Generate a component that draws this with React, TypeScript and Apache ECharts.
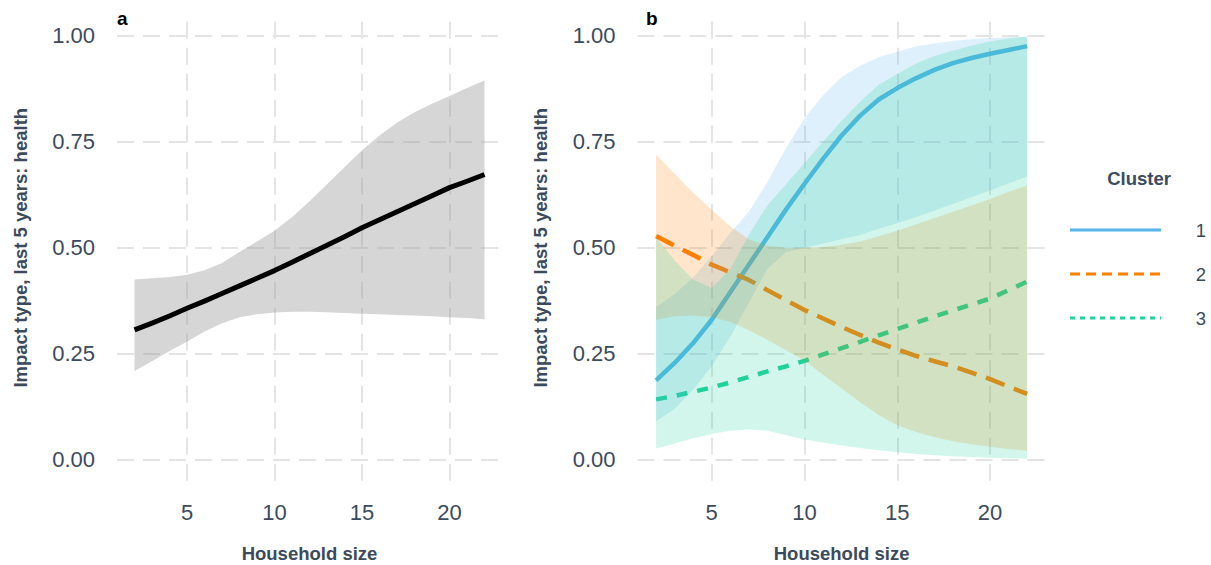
import React, { useEffect, useRef } from "react";
import * as echarts from "echarts";

// ---------- data ----------
const X = [2, 3, 4, 5, 6, 7, 8, 9, 10, 11, 12, 13, 14, 15, 16, 17, 18, 19, 20, 21, 22];

// panel a
const aFit = [0.306, 0.322, 0.339, 0.357, 0.374, 0.392, 0.41, 0.428, 0.446, 0.466, 0.486, 0.506, 0.526, 0.547, 0.566, 0.585, 0.604, 0.623, 0.642, 0.657, 0.673];
const aLo = [0.209, 0.232, 0.256, 0.278, 0.302, 0.322, 0.336, 0.343, 0.347, 0.349, 0.349, 0.348, 0.346, 0.344, 0.343, 0.341, 0.34, 0.338, 0.336, 0.334, 0.331];
const aHi = [0.425, 0.428, 0.431, 0.436, 0.447, 0.464, 0.49, 0.515, 0.54, 0.572, 0.61, 0.65, 0.69, 0.73, 0.765, 0.795, 0.82, 0.84, 0.858, 0.877, 0.895];

// panel b
const c1Fit = [0.187, 0.228, 0.275, 0.33, 0.395, 0.46, 0.525, 0.59, 0.651, 0.71, 0.765, 0.812, 0.85, 0.877, 0.9, 0.92, 0.936, 0.948, 0.958, 0.967, 0.976];
const c1Lo = [0.09, 0.12, 0.165, 0.22, 0.29, 0.37, 0.45, 0.49, 0.5, 0.51, 0.52, 0.53, 0.545, 0.558, 0.572, 0.588, 0.603, 0.619, 0.635, 0.652, 0.668];
const c1Hi = [0.36, 0.39, 0.43, 0.48, 0.535, 0.585, 0.655, 0.735, 0.805, 0.86, 0.903, 0.93, 0.95, 0.963, 0.975, 0.982, 0.988, 0.992, 0.995, 0.997, 0.998];

const c2Fit = [0.528, 0.505, 0.483, 0.46, 0.442, 0.424, 0.4, 0.376, 0.353, 0.333, 0.313, 0.294, 0.276, 0.26, 0.245, 0.232, 0.22, 0.205, 0.19, 0.172, 0.155];
const c2Lo = [0.33, 0.338, 0.34, 0.336, 0.325, 0.305, 0.283, 0.258, 0.234, 0.2, 0.168, 0.135, 0.105, 0.081, 0.065, 0.053, 0.043, 0.036, 0.03, 0.025, 0.021];
const c2Hi = [0.72, 0.675, 0.63, 0.59, 0.55, 0.52, 0.505, 0.5, 0.5, 0.502, 0.507, 0.515, 0.527, 0.54, 0.555, 0.57, 0.585, 0.6, 0.615, 0.632, 0.647];

const c3Fit = [0.142, 0.15, 0.16, 0.17, 0.182, 0.195, 0.208, 0.22, 0.233, 0.248, 0.263, 0.278, 0.293, 0.308, 0.323, 0.338, 0.352, 0.366, 0.38, 0.4, 0.42];
const c3Lo = [0.026, 0.038, 0.05, 0.06, 0.068, 0.071, 0.068, 0.058, 0.047, 0.04, 0.033, 0.027, 0.022, 0.017, 0.013, 0.01, 0.008, 0.006, 0.004, 0.003, 0.002];
const c3Hi = [0.525, 0.47, 0.425, 0.405, 0.45, 0.53, 0.6, 0.65, 0.7, 0.75, 0.8, 0.845, 0.885, 0.91, 0.935, 0.953, 0.965, 0.977, 0.987, 0.994, 0.998];

const clusters = ["1", "2", "3"];
const xTicks = [5, 10, 15, 20];
const yTicks = [0, 0.25, 0.5, 0.75, 1];
const xTitle = "Household size";
const yTitle = "Impact type, last 5 years: health";

// ---------- style ----------
const FONT = "'Liberation Sans', Arial, Helvetica, sans-serif";
const TXT = "#3b4a5c";
const GRID = "#e4e4e4";
const COL = ["#56B4E9", "#FF7F00", "#1FD39A"];
const FILL = ["rgba(86,180,233,0.2)", "rgba(255,127,0,0.2)", "rgba(31,211,154,0.2)"];
const DASH: any[] = ["solid", [20, 10], [11, 10]];

const GRIDS = [
  { left: 117, top: 14.8, width: 385, height: 465.9 },
  { left: 637.5, top: 14.8, width: 408.2, height: 465.9 },
];

function ribbon(idx: number, lo: number[], hi: number[], fill: string, z: number) {
  return {
    type: "custom",
    xAxisIndex: idx,
    yAxisIndex: idx,
    z,
    clip: false,
    silent: true,
    data: X.map((x, i) => [x, lo[i], hi[i]]),
    renderItem: (params: any, api: any) => {
      if (params.dataIndex !== 0) return null;
      const pts: number[][] = [];
      for (let i = 0; i < X.length; i++) pts.push(api.coord([X[i], hi[i]]));
      for (let i = X.length - 1; i >= 0; i--) pts.push(api.coord([X[i], lo[i]]));
      return { type: "polygon", shape: { points: pts }, style: { fill, stroke: "none" } };
    },
  };
}

function fitLine(idx: number, fit: number[], color: string, type: any, width: number, z: number, name?: string) {
  return {
    type: "line",
    name,
    xAxisIndex: idx,
    yAxisIndex: idx,
    z,
    smooth: false,
    showSymbol: false,
    silent: true,
    data: X.map((x, i) => [x, fit[i]]),
    lineStyle: { color, width, type, cap: "butt", join: "round" },
  };
}

function gridLines(idx: number) {
  return {
    type: "line",
    xAxisIndex: idx,
    yAxisIndex: idx,
    z: 0,
    data: [],
    silent: true,
    markLine: {
      z: 0,
      silent: true,
      symbol: "none",
      animation: false,
      label: { show: false },
      lineStyle: { color: GRID, width: 2, type: [17, 9] },
      data: [...xTicks.map((v) => ({ xAxis: v })), ...yTicks.map((v) => ({ yAxis: v }))],
    },
  };
}

function xAxis(idx: number) {
  return {
    type: "value",
    gridIndex: idx,
    min: 1,
    max: 23,
    axisLine: { show: false },
    axisTick: { show: false },
    splitLine: { show: false },
    axisLabel: { customValues: xTicks, color: TXT, fontSize: 22, fontFamily: FONT, margin: 21 },
  };
}

function yAxis(idx: number) {
  return {
    type: "value",
    gridIndex: idx,
    min: -0.05,
    max: 1.05,
    axisLine: { show: false },
    axisTick: { show: false },
    splitLine: { show: false },
    axisLabel: {
      customValues: yTicks,
      color: TXT,
      fontSize: 22,
      fontFamily: FONT,
      margin: 22,
      formatter: (v: number) => v.toFixed(2),
    },
  };
}

export default function App() {
  const ref = useRef<HTMLDivElement>(null);
  useEffect(() => {
    document.body.style.margin = "0";
    const chart = echarts.init(ref.current!, null, { renderer: "svg" });

    const titleStyle = { fill: TXT, font: `bold 18.5px ${FONT}` };
    const graphic: any[] = [];
    GRIDS.forEach((g, i) => {
      graphic.push({
        type: "text",
        x: g.left + g.width / 2,
        y: 553,
        style: { text: xTitle, ...titleStyle, align: "center", verticalAlign: "middle" },
      });
      graphic.push({
        type: "text",
        x: i === 0 ? 20 : 540,
        y: g.top + g.height / 2,
        rotation: Math.PI / 2,
        style: { text: yTitle, ...titleStyle, align: "center", verticalAlign: "middle" },
      });
      graphic.push({
        type: "text",
        x: i === 0 ? 117 : 646,
        y: 18,
        style: { text: i === 0 ? "a" : "b", fill: "#000", font: `bold 19px ${FONT}`, align: "left", verticalAlign: "middle" },
      });
    });
    // legend
    graphic.push({
      type: "text",
      x: 1139,
      y: 178,
      style: { text: "Cluster", ...titleStyle, align: "center", verticalAlign: "middle" },
    });
    const legDash: any[] = [null, [10, 6], [5, 5]];
    clusters.forEach((c, i) => {
      const y = 230 + i * 44;
      graphic.push({
        type: "line",
        shape: { x1: 1070, y1: y, x2: 1161, y2: y },
        style: { stroke: COL[i], lineWidth: 3, lineDash: legDash[i] || undefined },
      });
      graphic.push({
        type: "text",
        x: 1201,
        y,
        style: { text: c, fill: TXT, font: `18.5px ${FONT}`, align: "center", verticalAlign: "middle" },
      });
    });

    chart.setOption({
      animation: false,
      grid: GRIDS,
      xAxis: [xAxis(0), xAxis(1)],
      yAxis: [yAxis(0), yAxis(1)],
      graphic,
      series: [
        gridLines(0),
        gridLines(1),
        ribbon(0, aLo, aHi, "rgba(153,153,153,0.4)", 2),
        fitLine(0, aFit, "#000", "solid", 5, 3),
        fitLine(1, c1Fit, COL[0], DASH[0], 4.5, 2, clusters[0]),
        fitLine(1, c2Fit, COL[1], DASH[1], 4.5, 2, clusters[1]),
        fitLine(1, c3Fit, COL[2], DASH[2], 4.5, 2, clusters[2]),
        ribbon(1, c1Lo, c1Hi, FILL[0], 3),
        ribbon(1, c2Lo, c2Hi, FILL[1], 3),
        ribbon(1, c3Lo, c3Hi, FILL[2], 3),
      ],
    });
    return () => chart.dispose();
  }, []);
  return <div ref={ref} style={{ width: 1211, height: 565 }} />;
}
